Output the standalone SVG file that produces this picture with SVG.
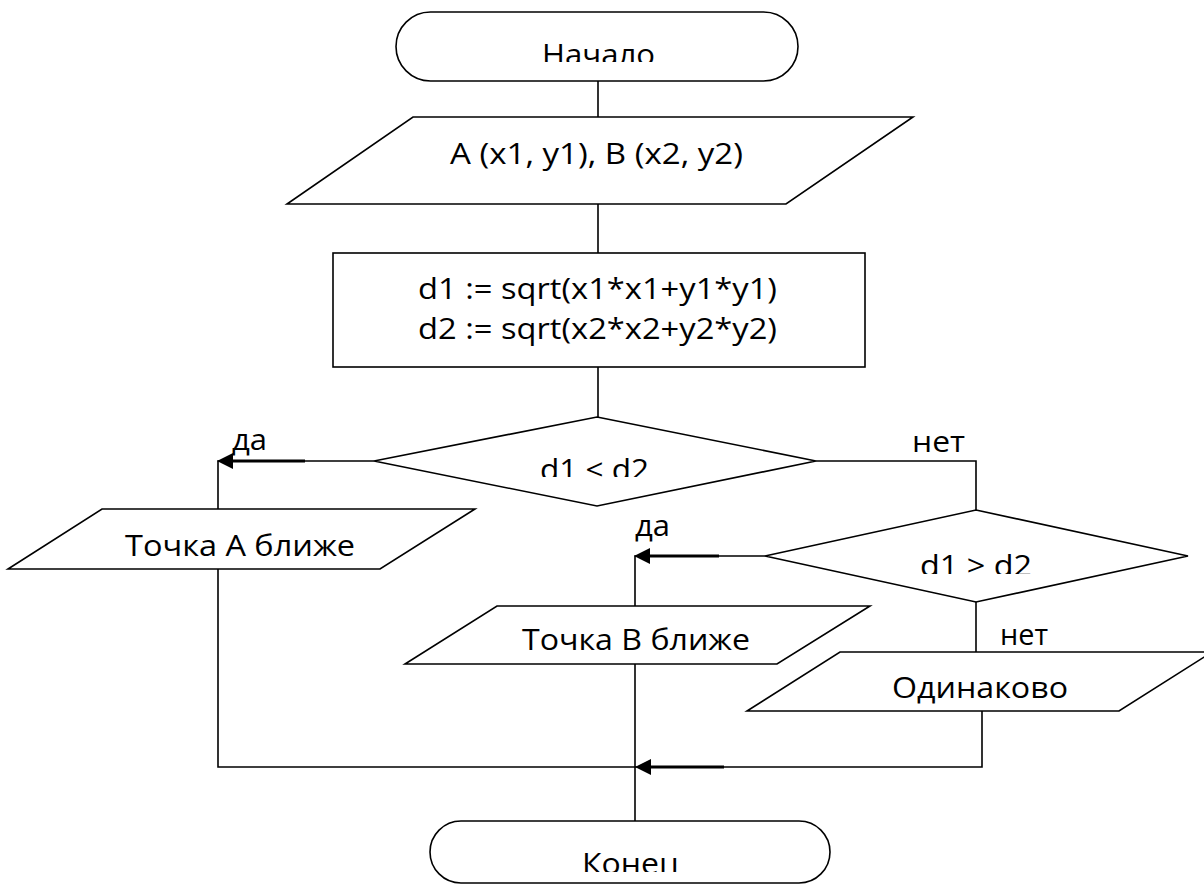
<svg xmlns="http://www.w3.org/2000/svg" width="1204" height="885" viewBox="0 0 1204 885">
<style>
.s{fill:#fff;stroke:#000;stroke-width:1.6}
.c{fill:none;stroke:#000;stroke-width:1.6}
.t{stroke:#000;stroke-width:3.2;fill:none}
.a{fill:#000}
text{font-family:"Open Sans","Liberation Sans",sans-serif;font-size:29px;fill:#000}
</style>
<defs>
<clipPath id="c1"><rect x="400" y="0" width="400" height="62"/></clipPath>
<clipPath id="c2"><rect x="380" y="400" width="440" height="77"/></clipPath>
<clipPath id="c3"><rect x="770" y="500" width="420" height="74"/></clipPath>
<clipPath id="c4"><rect x="430" y="800" width="400" height="72"/></clipPath>
</defs>
<g id="connectors">
<path class="c" d="M598 81V117M598 204V253M598 367V417"/>
<path class="c" d="M374 461H218V509"/>
<path class="t" d="M305 461H228"/>
<polygon class="a" points="217,461 233,453 233,469"/>
<path class="c" d="M816 461H976V510"/>
<path class="c" d="M218 569V767H982V711"/>
<path class="t" d="M724 767H645"/>
<polygon class="a" points="635,767 651,759 651,775"/>
<path class="c" d="M765 556H635V606"/>
<path class="t" d="M719 556H645"/>
<polygon class="a" points="634,556 650,548 650,564"/>
<path class="c" d="M976 602V652"/>
<path class="c" d="M635 664V821"/>
<text x="232" y="450" textLength="35" lengthAdjust="spacingAndGlyphs">да</text>
<text x="912" y="452" textLength="53" lengthAdjust="spacingAndGlyphs">нет</text>
<text x="635" y="536" textLength="35" lengthAdjust="spacingAndGlyphs">да</text>
<text x="1000" y="645" textLength="48" lengthAdjust="spacingAndGlyphs">нет</text>
</g>
<g id="start">
<rect class="s" x="396" y="12" width="402" height="69" rx="34.5"/>
<text x="542" y="65" textLength="113" lengthAdjust="spacingAndGlyphs" clip-path="url(#c1)">Начало</text>
</g>
<g id="input">
<polygon class="s" points="413,117 913,117 786,204 287,204"/>
<text x="450" y="164" textLength="293" lengthAdjust="spacingAndGlyphs">A (x1, y1), B (x2, y2)</text>
</g>
<g id="calc">
<rect class="s" x="333" y="253" width="532" height="114"/>
<text x="418" y="299" textLength="359" lengthAdjust="spacingAndGlyphs">d1 := sqrt(x1*x1+y1*y1)</text>
<text x="418" y="339" textLength="359" lengthAdjust="spacingAndGlyphs">d2 := sqrt(x2*x2+y2*y2)</text>
</g>
<g id="cond1">
<polygon class="s" points="597,417 816,461 597,506 374,461"/>
<text x="540" y="480" textLength="109" lengthAdjust="spacingAndGlyphs" clip-path="url(#c2)">d1 &lt; d2</text>
</g>
<g id="outA">
<polygon class="s" points="102,509 475,509 380,569 8,569"/>
<text x="125" y="556" textLength="230" lengthAdjust="spacingAndGlyphs">Точка А ближе</text>
</g>
<g id="cond2">
<polygon class="s" points="976,510 1188,556 976,602 765,556"/>
<text x="920" y="576" textLength="112" lengthAdjust="spacingAndGlyphs" clip-path="url(#c3)">d1 &gt; d2</text>
</g>
<g id="outB">
<polygon class="s" points="497,606 870,606 777,664 405,664"/>
<text x="522" y="650" textLength="228" lengthAdjust="spacingAndGlyphs">Точка В ближе</text>
</g>
<g id="outEq">
<polygon class="s" points="840,652 1212,652 1119,711 747,711"/>
<text x="892" y="698" textLength="176" lengthAdjust="spacingAndGlyphs">Одинаково</text>
</g>
<g id="end">
<rect class="s" x="430" y="821" width="400" height="62" rx="31"/>
<text x="582" y="874" textLength="97" lengthAdjust="spacingAndGlyphs" clip-path="url(#c4)">Конец</text>
</g>
</svg>
